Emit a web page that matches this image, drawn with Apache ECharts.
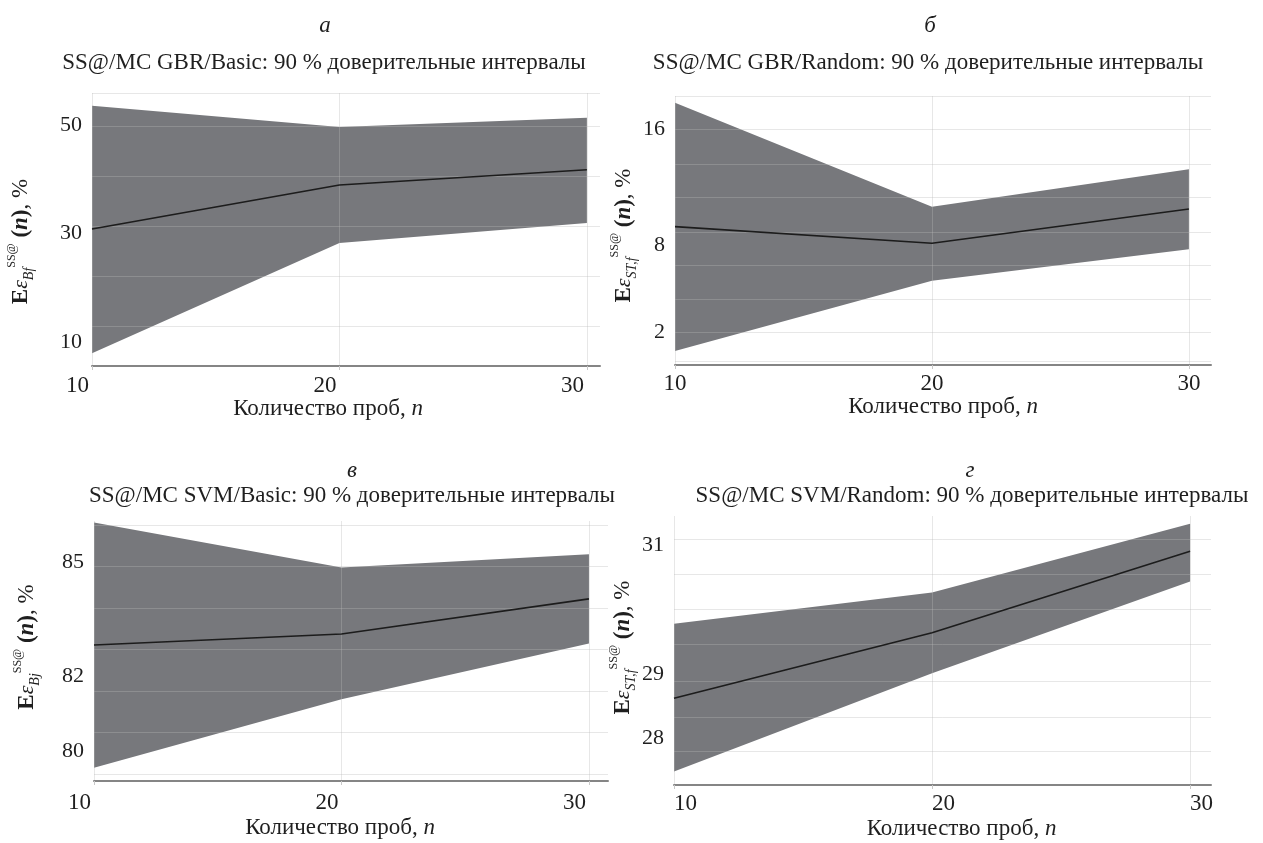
<!DOCTYPE html>
<html><head><meta charset="utf-8">
<script src="https://cdn.jsdelivr.net/npm/echarts@6/dist/echarts.min.js"></script>
<style>html,body{margin:0;padding:0;background:#fff}#c{width:1263px;height:843px}</style>
</head><body><div id="c"></div>
<script>
// ---- data ----
const nValues = [10, 20, 30];
const xTickLabels = [10, 20, 30];

// а: SS@/MC GBR/Basic
const aLower = [7.9, 28.2, 31.9];
const aMean  = [30.8, 38.9, 41.7];
const aUpper = [53.5, 49.6, 51.3];
const aTickLabels = [10, 30, 50];
const aGridValues = [12.9, 22.1, 31.35, 40.6, 49.8, 55.86];

// б: SS@/MC GBR/Random
const bLower = [0.71, 5.56, 7.73];
const bMean  = [9.29, 8.14, 10.51];
const bUpper = [17.85, 10.67, 13.25];
const bTickLabels = [2, 8, 16];
const bGridValues = [0, 2, 4.3, 6.6, 8.9, 11.3, 13.6, 16, 18.31];

// в: SS@/MC SVM/Basic
const cLower = [79.57, 81.38, 82.86];
const cMean  = [82.82, 83.11, 84.04];
const cUpper = [86.06, 84.87, 85.22];
const cTickLabels = [80, 82, 85];
const cGridValues = [79.4, 80.5, 81.6, 82.7, 83.8, 84.9, 86.0];

// г: SS@/MC SVM/Random
const dLower = [27.48, 29.01, 30.44];
const dMean  = [28.62, 29.64, 30.91];
const dUpper = [29.78, 30.27, 31.34];
const dTickLabels = [28, 29, 31];
const dGridValues = [27.79, 28.33, 28.89, 29.47, 30.01, 30.56, 31.1];

const letters = ['а', 'б', 'в', 'г'];
const titles = [
  'SS@/MC GBR/Basic: 90 % доверительные интервалы',
  'SS@/MC GBR/Random: 90 % доверительные интервалы',
  'SS@/MC SVM/Basic: 90 % доверительные интервалы',
  'SS@/MC SVM/Random: 90 % доверительные интервалы'
];
const ySubs = ['Bf', 'ST,f', 'Bj', 'ST,f'];
const xName = 'Количество проб, ';

// ---- layout / style ----
const FONT = 'Liberation Serif';
const layout = [
  {left: 92,  top: 93,  width: 508, height: 273, xMax: 30.53, yMin: 5.54,  yMax: 55.86,
   letterX: 325, letterY: 14, titleX: 324, titleY: 51, xAlign: 'right', xMargin: 8, xNameGap: 30, xNamePad: [0, 36, 0, 0],
   yNameGap: 56, yNamePad: [0, 24, 0, 0]},
  {left: 675, top: 96,  width: 536, height: 269, xMax: 30.86, yMin: -0.26, yMax: 18.31,
   letterX: 930, letterY: 14, titleX: 928, titleY: 51, xAlign: 'center', xMargin: 7, xNameGap: 30, xNamePad: [0, 0, 0, 0],
   yNameGap: 34, yNamePad: [0, 10, 0, 0]},
  {left: 94,  top: 521, width: 514, height: 260, xMax: 30.77, yMin: 79.22, yMax: 86.10,
   letterX: 352, letterY: 459, titleX: 352, titleY: 484, xAlign: 'right', xMargin: 10, xNameGap: 35, xNamePad: [0, 22, 0, 0],
   yNameGap: 52, yNamePad: [0, 0, 0, 8]},
  {left: 674, top: 516, width: 537, height: 269, xMax: 30.81, yMin: 27.27, yMax: 31.46,
   letterX: 970, letterY: 459, titleX: 972, titleY: 484, xAlign: 'left', xMargin: 7, xNameGap: 32, xNamePad: [0, 0, 0, 38],
   yNameGap: 30, yNamePad: [0, 0, 0, 6]}
];

const panels = [
  {lower: aLower, mean: aMean, upper: aUpper, labels: aTickLabels, grid: aGridValues},
  {lower: bLower, mean: bMean, upper: bUpper, labels: bTickLabels, grid: bGridValues},
  {lower: cLower, mean: cMean, upper: cUpper, labels: cTickLabels, grid: cGridValues},
  {lower: dLower, mean: dMean, upper: dUpper, labels: dTickLabels, grid: dGridValues}
];

const BAND = '#77787c';
const GRIDLINE = 'rgba(184,184,184,0.34)';
const TXT = '#1f1f1f';

const option = {
  backgroundColor: '#ffffff',
  animation: false,
  title: [], grid: [], xAxis: [], yAxis: [], series: []
};

function bandRender(params, api) {
  if (params.dataIndex !== 0) return null;
  const count = params.dataInsideLength;
  const top = [], bottom = [];
  for (let j = 0; j < count; j++) {
    const x = api.value(0, j);
    bottom.push(api.coord([x, api.value(1, j)]));
    top.push(api.coord([x, api.value(2, j)]));
  }
  const points = bottom.concat(top.reverse());
  return {
    type: 'polygon',
    shape: {points: points},
    style: {fill: BAND, stroke: null}
  };
}

panels.forEach((p, i) => {
  const L = layout[i];
  option.title.push({
    text: letters[i], left: L.letterX, top: L.letterY, textAlign: 'center', padding: 0,
    textStyle: {fontFamily: FONT, fontStyle: 'italic', fontWeight: 'normal', fontSize: 23, color: TXT}
  });
  option.title.push({
    text: titles[i], left: L.titleX, top: L.titleY, textAlign: 'center', padding: 0,
    textStyle: {fontFamily: FONT, fontWeight: 'normal', fontSize: 23, color: TXT}
  });
  option.grid.push({left: L.left, top: L.top, width: L.width, height: L.height, containLabel: false});
  option.xAxis.push({
    gridIndex: i, type: 'value', min: 10, max: L.xMax, z: 5,
    name: '{t|' + xName + '}{n|n}', nameLocation: 'middle', nameGap: L.xNameGap,
    nameTextStyle: {padding: L.xNamePad, rich: {
      t: {fontFamily: FONT, fontSize: 23, color: TXT},
      n: {fontFamily: FONT, fontSize: 23, fontStyle: 'italic', color: TXT}
    }},
    axisLine: {show: true, onZero: false, lineStyle: {color: '#858585', width: 2}},
    axisTick: {show: true, customValues: xTickLabels, length: 4, lineStyle: {color: '#c8c8c8'}},
    axisLabel: {customValues: xTickLabels, align: L.xAlign, margin: L.xMargin, padding: L.xAlign === 'right' ? [0, 3, 0, 0] : 0,
      fontFamily: FONT, fontSize: 23, color: TXT},
    splitLine: {show: true, lineStyle: {color: GRIDLINE, width: 1}}
  });
  option.yAxis.push({
    gridIndex: i, type: 'value', min: L.yMin, max: L.yMax, z: 5,
    name: '{E|E}{eps|ε}{sub|' + ySubs[i] + '}{sup|SS@}{p| (}{n|n}{p|)}{t|, %}',
    nameLocation: 'middle', nameRotate: 90, nameGap: L.yNameGap,
    nameTextStyle: {padding: L.yNamePad, rich: {
      E:   {fontFamily: FONT, fontSize: 23, fontWeight: 'bold', color: TXT, lineHeight: 30},
      eps: {fontFamily: FONT, fontSize: 22, fontStyle: 'italic', color: TXT, lineHeight: 30},
      sub: {fontFamily: FONT, fontSize: 14, fontStyle: 'italic', color: TXT, verticalAlign: 'bottom', lineHeight: 30},
      sup: {fontFamily: FONT, fontSize: 12, color: TXT, verticalAlign: 'top', lineHeight: 30},
      p:   {fontFamily: FONT, fontSize: 23, fontWeight: 'bold', color: TXT, lineHeight: 30},
      n:   {fontFamily: FONT, fontSize: 23, fontWeight: 'bold', fontStyle: 'italic', color: TXT, lineHeight: 30},
      t:   {fontFamily: FONT, fontSize: 23, color: TXT, lineHeight: 30}
    }},
    axisLine: {show: false},
    axisTick: {show: false, customValues: p.grid},
    axisLabel: {customValues: p.labels, margin: 10, fontFamily: FONT, fontSize: 22, color: TXT,
      formatter: v => String(Math.round(v))},
    splitLine: {show: true, lineStyle: {color: GRIDLINE, width: 1}}
  });
  option.series.push({
    type: 'custom', xAxisIndex: i, yAxisIndex: i, renderItem: bandRender,
    data: nValues.map((n, k) => [n, p.lower[k], p.upper[k]]),
    encode: {x: 0, y: [1, 2]}, silent: true, z: 2, clip: true
  });
  option.series.push({
    type: 'line', xAxisIndex: i, yAxisIndex: i, data: nValues.map((n, k) => [n, p.mean[k]]),
    symbol: 'none', lineStyle: {color: '#1c1c1c', width: 1.6}, silent: true, z: 8
  });
});

const chart = echarts.init(document.getElementById('c'));
chart.setOption(option);
</script>
</body></html>
